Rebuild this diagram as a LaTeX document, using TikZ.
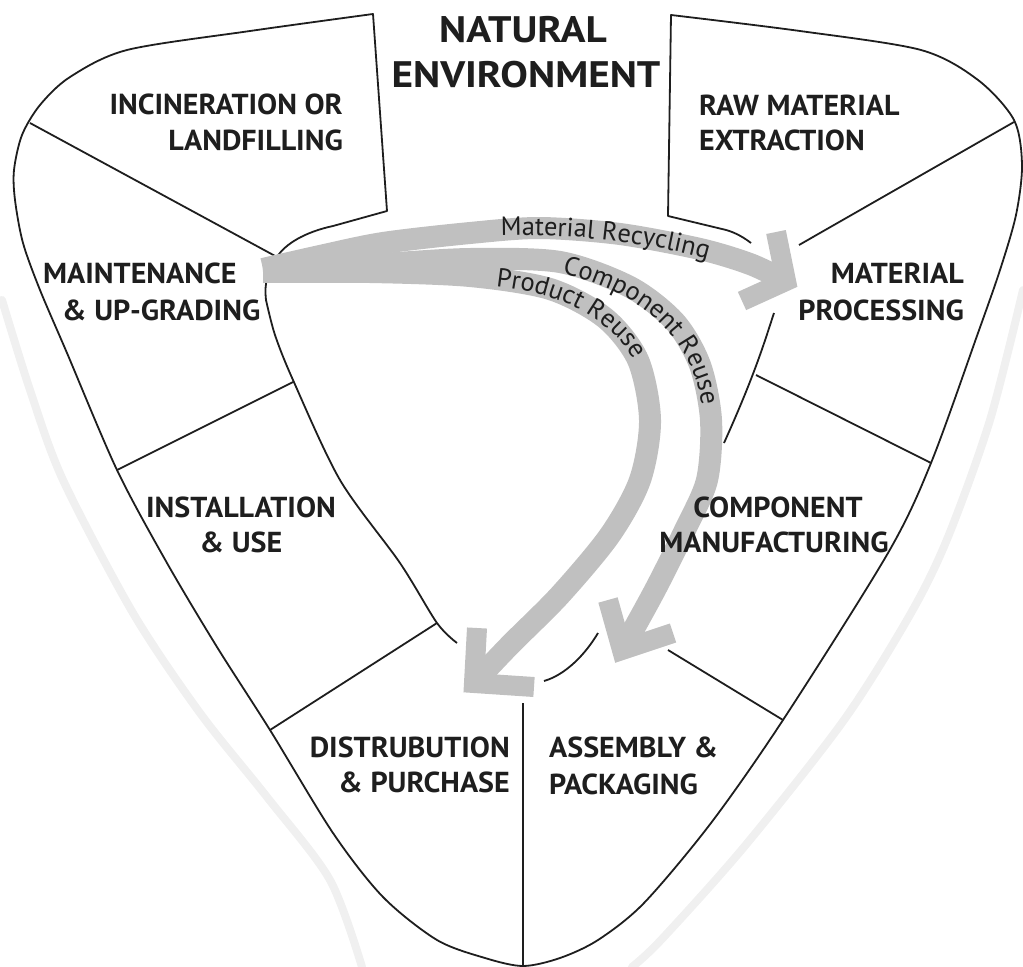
\documentclass[tikz,border=0pt]{standalone}
\usepackage{fontspec}
\setmainfont{PT Sans}
\newfontfamily\stagefont{PT Sans}[FakeStretch=1.04]
\newfontfamily\titlefont{PT Sans}[FakeStretch=1.12]
\usetikzlibrary{decorations.text}
\definecolor{bandgray}{RGB}{192,192,192}
\definecolor{inkblack}{RGB}{30,30,30}
\newcommand\flowfont{\fontsize{26.5}{28}\selectfont}
\begin{document}
\begin{tikzpicture}[x=1bp,y=-1bp,
  outline/.style={line width=1.8bp, line join=round, draw=inkblack},
  ghost/.style={line width=8bp, draw=black!6, line cap=round},
  band/.style={line width=22bp, draw=bandgray, line cap=butt},
  barb/.style={line width=20bp, draw=bandgray, line join=miter, line cap=butt},
  stage/.style={font=\stagefont\bfseries\fontsize{29}{31}\selectfont, inner sep=0pt, text=inkblack},
  title/.style={font=\titlefont\bfseries\fontsize{37}{40}\selectfont, inner sep=0pt, text=inkblack},
  flowtext/.style={decorate, decoration={text along path, text align=center,
      text color=inkblack, text={|\flowfont|#1}}}
]
\useasboundingbox (0,0) rectangle (1023,967);

% faint outer halo
\draw[ghost] plot[smooth] coordinates {(2,300) (30,390) (63,480) (133,613) (200,713) (267,797) (330,880) (362,967)};
\draw[ghost] plot[smooth] coordinates {(1023,290) (990,420) (948,537) (911,613) (844,720) (744,847) (661,940) (632,967)};

% outer ring of the life cycle
\draw[outline] (751,243) .. controls (742,236) and (732,231) .. (722,229) -- (668,216)
  -- (671,15)
  -- plot[smooth, tension=0.5] coordinates {(671,15) (800,31) (921,50) (978,80) (1014,120)
     (1022,165) (1016,215) (1000,270) (978,333) (931,463) (888,553) (783,720) (711,823)
     (644,903) (598,940) (560,958) (523,966) (485,958) (437,940) (383,897) (333,833)
     (270,730) (217,647) (167,563) (117,470) (67,353) (40,290) (23,243) (15,200) (14,170)
     (22,135) (40,105) (70,77) (127,50) (250,31) (373,14)}
  -- (387,211) -- (333,226)
  .. controls (305,232) and (285,244) .. (277,257)
  .. controls (268,270) and (264,282) .. (266,300)
  -- plot[smooth, tension=0.5] coordinates {(266,300) (275,335) (293,380) (340,480) (400,563) (437,623) (457,643)};

% inner pieces
\draw[outline] (598,633) .. controls (585,655) and (565,675) .. (544,681);
\draw[outline] (774,313) .. controls (765,340) and (756,372) .. (724,443);
\draw[outline] (523,703) -- (523,967);

% stage dividers
\draw[outline] (30,123) -- (277,257);
\draw[outline] (293,382) -- (117,470);
\draw[outline] (437,623) -- (270,730);
\draw[outline] (668,650) -- (783,720);
\draw[outline] (756,375) -- (931,463);
\draw[outline] (799,245) -- (1014,122);

% recovery loops
\draw[band] plot[smooth] coordinates {(263,269) (320,256) (383,243) (470,233) (540,228) (620,234) (700,249) (750,264) (786,281)};
\draw[band] plot[smooth] coordinates {(263,270) (380,264) (470,259) (560,262) (630,287) (675,322) (700,365) (711,420) (707,480) (685,530) (655,590) (622,650)};
\draw[band] plot[smooth] coordinates {(263,272) (370,272) (470,276) (550,289) (605,318) (638,360) (650,420) (640,480) (610,535) (560,595) (510,645) (474,683)};
\draw[barb] (776,232) -- (786,281) -- (742,301);
\draw[barb] (608,600) -- (622,650) -- (673,633);
\draw[barb] (477,628) -- (474,683) -- (534,687);

% loop labels
\path[flowtext={Material Recycling}] (488,236) .. controls (580,232) and (662,245) .. (720,263);
\path[flowtext={Component Reuse}] (550,271) .. controls (642,289) and (698,340) .. (703,418);
\path[flowtext={Product Reuse}] (482,285) .. controls (560,290) and (617,320) .. (640,372);

% stage names
\node[stage, anchor=base east] (incA) at (343,114) {INCINERATION OR};
\node[stage, anchor=base east] (incB) at (343,150) {LANDFILLING};
\node[stage, anchor=base west] (rawA) at (699,115) {RAW MATERIAL};
\node[stage, anchor=base west] (rawB) at (699,150) {EXTRACTION};
\node[stage, anchor=base east] (procA) at (964,283) {MATERIAL};
\node[stage, anchor=base east] (procB) at (964,320) {PROCESSING};
\node[stage, anchor=base west] (mainA) at (43,283) {MAINTENANCE};
\node[stage, anchor=base west] (mainB) at (62,320) {\& UP-GRADING};
\node[stage, anchor=base] (instA) at (241,517) {INSTALLATION};
\node[stage, anchor=base] (instB) at (241,552) {\& USE};
\node[stage, anchor=base east] (distA) at (510,757) {DISTRUBUTION};
\node[stage, anchor=base east] (distB) at (510,792) {\& PURCHASE};
\node[stage, anchor=base west] (asmA) at (549,757) {ASSEMBLY \&};
\node[stage, anchor=base west] (asmB) at (549,794) {PACKAGING};
\node[stage, anchor=base] (compA) at (778,517) {COMPONENT};
\node[stage, anchor=base] (compB) at (774,552) {MANUFACTURING};
\node[title, anchor=base] (natA) at (523,42) {NATURAL};
\node[title, anchor=base] (natB) at (526,87) {ENVIRONMENT};
\end{tikzpicture}
\end{document}
